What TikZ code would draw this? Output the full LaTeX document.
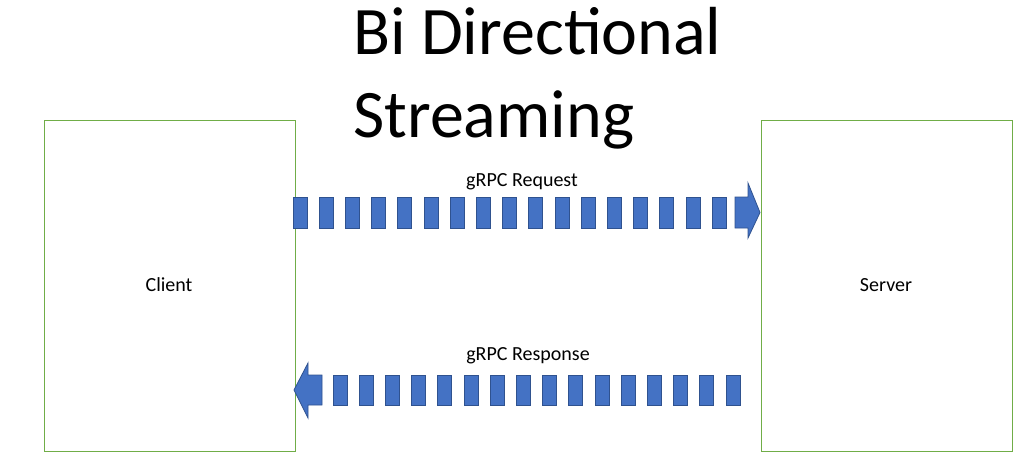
\documentclass[tikz,border=0pt]{standalone}
\usepackage{fontspec}
\setmainfont{Carlito}
\begin{document}
\begin{tikzpicture}[x=1pt,y=-1pt,
  box/.style={draw={rgb,255:red,112;green,173;blue,71},line width=0.8pt},
  blk/.style={fill={rgb,255:red,68;green,114;blue,196},draw={rgb,255:red,47;green,82;blue,143},line width=0.8pt},
  lbl/.style={font=\fontsize{20}{24}\selectfont,inner sep=0pt}]
\useasboundingbox (0,0) rectangle (1022,468);
\draw[box] (44,120) rectangle (295,451);
\draw[box] (761,120) rectangle (1012,451);
\node[lbl] (client) at (169,285) {Client};
\node[lbl] (server) at (886,285) {Server};
\node[anchor=base west,inner sep=0pt,font=\fontsize{68}{82}\selectfont] (t1) at (353,55) {Bi Directional};
\node[anchor=base west,inner sep=0pt,font=\fontsize{68}{82}\selectfont] (t2) at (353,137) {Streaming};
\node[lbl] (req) at (522,182) {gRPC Request};
\node[lbl] (resp) at (528,356) {gRPC Response};
\foreach \i in {0,...,16} {\draw[blk] ({293+26.2*\i},197) rectangle ({307+26.2*\i},228);}
\draw[blk] (735,197) -- (748,197) -- (748,183) -- (760,212.5) -- (748,238) -- (748,228) -- (735,228) -- cycle;
\foreach \i in {0,...,15} {\draw[blk] ({333+26.2*\i},375) rectangle ({347+26.2*\i},405);}
\draw[blk] (322,375) -- (308,375) -- (308,363) -- (294,390) -- (308,418) -- (308,405) -- (322,405) -- cycle;
\end{tikzpicture}
\end{document}
